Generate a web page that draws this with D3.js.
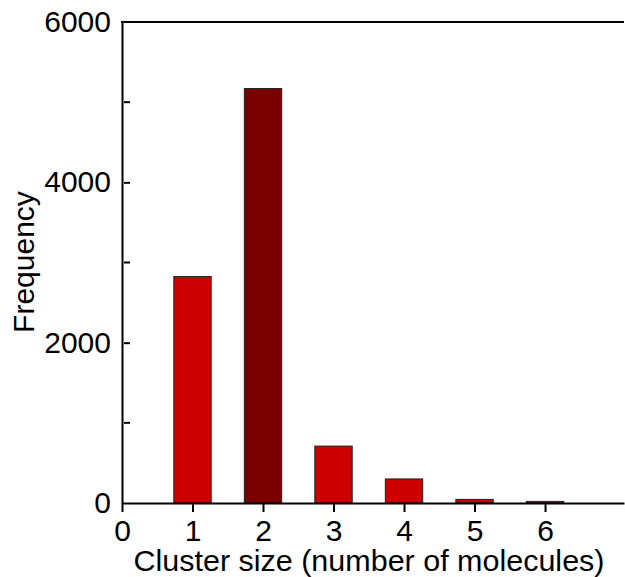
<!DOCTYPE html>
<html>
<head>
<meta charset="utf-8">
<script src="https://cdn.jsdelivr.net/npm/d3@7"></script>
<style>
  html, body { margin: 0; padding: 0; background: #fff; }
  svg { display: block; font-family: "Liberation Sans", Arial, sans-serif; }
</style>
</head>
<body>
<svg id="chart" width="625" height="577"></svg>
<script>
// Cluster size histogram
const clusterSizes = [1, 2, 3, 4, 5, 6];
const frequencies = [2825, 5170, 710, 300, 45, 20];
const barColors = ["#cc0000", "#7a0000", "#cc0000", "#cc0000", "#cc0000", "#cc0000"];
const xTickValues = [0, 1, 2, 3, 4, 5, 6];
const yTickValues = [0, 2000, 4000, 6000];
const yMinorTicks = [1000, 3000, 5000];

const svg = d3.select("#chart");
const plotLeft = 122, plotRight = 624, plotTop = 22, plotBottom = 503;
const fontFamily = "Liberation Sans, Arial, sans-serif";

const x = d3.scaleLinear().domain([0, 7.12]).range([plotLeft, plotRight]);
const y = d3.scaleLinear().domain([0, 6000]).range([plotBottom, plotTop]);
const barW = x(0.53) - x(0);

// bars
svg.append("g").selectAll("rect")
  .data(clusterSizes)
  .join("rect")
  .attr("x", (d) => x(d) - barW / 2)
  .attr("y", (d, i) => y(frequencies[i]))
  .attr("width", barW)
  .attr("height", (d, i) => y(0) - y(frequencies[i]))
  .attr("fill", (d, i) => barColors[i])
  .attr("stroke", "#222")
  .attr("stroke-width", 1);

// x axis: ticks point down
const xAxis = svg.append("g")
  .attr("transform", `translate(0,${plotBottom})`)
  .call(d3.axisBottom(x).tickValues(xTickValues).tickFormat(d3.format("d")).tickSize(9).tickPadding(8).tickSizeOuter(0));
xAxis.select(".domain").attr("stroke", "#000").attr("stroke-width", 2);
xAxis.selectAll(".tick line").attr("stroke", "#000").attr("stroke-width", 2);
xAxis.selectAll(".tick text").attr("font-size", 30).attr("fill", "#000")
  .attr("font-family", fontFamily);

// y axis: inward ticks, labels outside
const yAxis = svg.append("g")
  .attr("transform", `translate(${plotLeft},0)`)
  .call(d3.axisLeft(y).tickValues(yTickValues).tickFormat(d3.format("d")).tickSize(-8).tickPadding(11).tickSizeOuter(0));
yAxis.select(".domain").attr("stroke", "#000").attr("stroke-width", 2);
yAxis.selectAll(".tick line").attr("stroke", "#000").attr("stroke-width", 2)
  .attr("x1", 2).attr("x2", 8);
yAxis.selectAll(".tick text").attr("font-size", 30).attr("fill", "#000")
  .attr("font-family", fontFamily);
yAxis.selectAll(".tick").filter((d) => d === 0 || d === 6000).select("line").remove();

// minor y ticks
svg.append("g").selectAll("line")
  .data(yMinorTicks)
  .join("line")
  .attr("x1", plotLeft + 2).attr("x2", plotLeft + 8)
  .attr("y1", (d) => y(d)).attr("y2", (d) => y(d))
  .attr("stroke", "#000").attr("stroke-width", 2);

// top frame line
svg.append("line")
  .attr("x1", plotLeft - 1).attr("x2", plotRight)
  .attr("y1", plotTop).attr("y2", plotTop)
  .attr("stroke", "#000").attr("stroke-width", 2);

// axis titles
svg.append("text")
  .attr("x", 369).attr("y", 571)
  .attr("text-anchor", "middle")
  .attr("font-size", 29)
  .attr("textLength", 471).attr("lengthAdjust", "spacingAndGlyphs")
  .text("Cluster size (number of molecules)");

svg.append("text")
  .attr("transform", "translate(34,262) rotate(-90)")
  .attr("text-anchor", "middle")
  .attr("font-size", 30)
  .text("Frequency");
</script>
</body>
</html>
